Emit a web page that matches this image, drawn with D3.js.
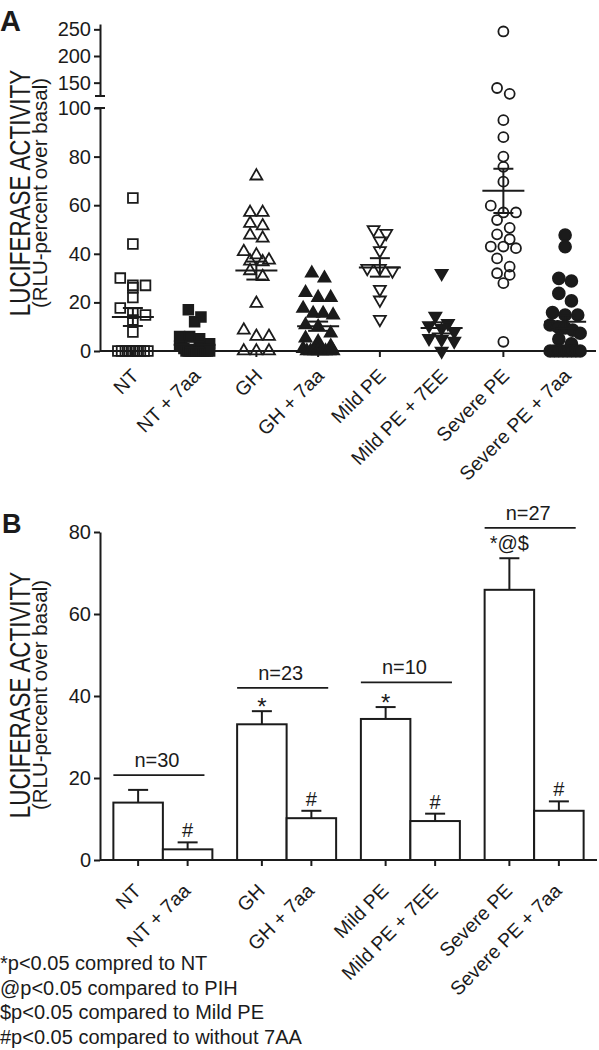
<!DOCTYPE html>
<html>
<head>
<meta charset="utf-8">
<script src="https://cdn.jsdelivr.net/npm/d3@7"></script>
<style>
  body { margin: 0; background: #fff; }
  svg { display: block; }
  text { font-family: "Liberation Sans", Arial, Helvetica, sans-serif; fill: #1b1b1b; }
</style>
</head>
<body>
<svg id="chart" width="599" height="1050"></svg>
<script>
// ---------------- DATA ----------------
const categories = ["NT", "NT + 7aa", "GH", "GH + 7aa", "Mild PE", "Mild PE + 7EE", "Severe PE", "Severe PE + 7aa"];
const groups = ["NT", "GH", "Mild PE", "Severe PE"];

// Panel A: individual values (RLU-percent over basal)
const ntValues       = [63, 44, 30, 27, 26, 27, 22, 17.7, 15.5, 14.8, 12.7, 7.8, 0, 0, 0, 0, 0, 0, 0, 0, 0];
const nt7aaValues    = [17, 14, 12, 6, 6, 5, 3, 2, 2, 1, 0, 0, 0, 0, 0, 0, 0, 0, 0, 0, 0, 0];
const ghValues       = [72, 57, 57, 52.5, 51.5, 47.7, 46.4, 40.9, 39.5, 37.4, 37, 36.7, 33, 30.6, 19.6, 8.6, 6, 6, 0, 0, 0];
const gh7aaValues    = [32, 30, 24, 22, 22, 17.5, 15.5, 15.5, 14.8, 10.7, 10, 7.3, 5.3, 3.8, 2, 1, 0, 0, 0, 0, 0, 0, 0, 0];
const mildValues     = [50, 48.4, 45.3, 41.3, 34, 33, 34, 25.4, 21, 13];
const mild7eeValues  = [32, 14.4, 11.4, 10.5, 9.3, 8, 5.2, 4.8, 4.1, 0];
const severeValues   = [246, 140, 129, 95, 88, 80, 75.8, 69.7, 59.8, 57, 57, 53.9, 50.7, 48, 46, 43, 42.3, 43, 38.1, 34.7, 31.3, 32, 27.9, 3.8];
const severe7aaValues= [47.7, 42.9, 29.9, 28.8, 23.7, 20.6, 15.8, 14.8, 14.8, 10.7, 10, 9.5, 8.6, 7.3, 4.9, 3, 0, 0, 0, 0, 0, 0, 0, 0];
const scatterValues = [ntValues, nt7aaValues, ghValues, gh7aaValues, mildValues, mild7eeValues, severeValues, severe7aaValues];
const semA = [3.7, 1.2, 3.7, 1.9, 3.8, 2.3, 9.1, 2.7];

// Panel B: means and SEM
const means = [14.0, 2.6, 33.1, 10.2, 34.4, 9.5, 65.9, 12.0];
const semB  = [3.1, 1.7, 3.2, 1.8, 2.9, 1.8, 7.7, 2.3];
const sigLabels = ["", "#", "*", "#", "*", "#", "*@$", "#"];
const nLabels = ["n=30", "n=23", "n=10", "n=27"];
const nLineLevels = [20.7, 42.0, 43.3, 81.0];

const yTicksALower = [0, 20, 40, 60, 80, 100];
const yTicksAUpper = [150, 200, 250];
const yTicksB = [0, 20, 40, 60, 80];
const yTitle1 = "LUCIFERASE ACTIVITY";
const yTitle2 = "(RLU-percent over basal)";
const footnotes = ["*p<0.05 compred to NT", "@p<0.05 compared to PIH", "$p<0.05 compared to Mild PE", "#p<0.05 compared to without 7AA"];

// ---------------- DRAW ----------------
const ink = "#1b1b1b";
const svg = d3.select("#chart");

function styleAxis(g, fs) {
  g.selectAll("path, line").attr("stroke", ink).attr("stroke-width", 2);
  g.selectAll("text").attr("font-size", fs).attr("fill", ink)
    .style("font-family", "'Liberation Sans', Arial, sans-serif");
}

function yTitles(cy) {
  svg.append("text").attr("transform", `translate(30,${cy}) rotate(-90) scale(1,1.3)`)
    .attr("text-anchor", "middle").attr("font-size", 22.4).text(yTitle1);
  svg.append("text").attr("transform", `translate(47,${cy}) rotate(-90)`)
    .attr("text-anchor", "middle").attr("font-size", 20.5).text(yTitle2);
}

// ===== Panel A =====
const xA = d3.scaleBand().domain(categories).range([102, 596]);
const yA = d3.scaleLinear().domain([0, 100]).range([351, 108]);
const yAU = d3.scaleLinear().domain([125, 260]).range([96, 24]);
const yAny = v => v > 100 ? yAU(v) : yA(v);
const cxA = c => xA(c) + xA.bandwidth() / 2;

svg.append("text").attr("x", 0).attr("y", 31).attr("font-size", 29).attr("font-weight", "bold").text("A");
yTitles(193);

const axL = svg.append("g").attr("transform", "translate(100,0)")
  .call(d3.axisLeft(yA).tickValues(yTicksALower).tickSize(6).tickPadding(3).tickSizeOuter(0));
styleAxis(axL, 20);
const axU = svg.append("g").attr("transform", "translate(100,0)")
  .call(d3.axisLeft(yAU).tickValues(yTicksAUpper).tickSize(6).tickPadding(3).tickSizeOuter(0));
styleAxis(axU, 20);
// break marks
[yAU.range()[0], yA.range()[1]].forEach(yy => {
  svg.append("line").attr("x1", 95).attr("x2", 105).attr("y1", yy).attr("y2", yy)
    .attr("stroke", ink).attr("stroke-width", 2);
});

// x axis A
svg.append("line").attr("x1", 100).attr("x2", 596).attr("y1", yA(0)).attr("y2", yA(0))
  .attr("stroke", ink).attr("stroke-width", 2);
svg.append("g").selectAll("line").data(categories).join("line")
  .attr("x1", d => cxA(d)).attr("x2", d => cxA(d))
  .attr("y1", yA(0)).attr("y2", yA(0) + 6).attr("stroke", ink).attr("stroke-width", 2);
svg.append("g").selectAll("text").data(categories).join("text")
  .attr("transform", d => `translate(${cxA(d) + 7},${yA(0) + 26}) rotate(-45)`)
  .attr("text-anchor", "end").attr("font-size", 19.5).text(d => d);

// markers
const symbolDefs = [
  { type: d3.symbolSquare, size: 95, filled: false, rot: 0 },
  { type: d3.symbolSquare, size: 95, filled: true, rot: 0 },
  { type: d3.symbolTriangle, size: 62, filled: false, rot: 0 },
  { type: d3.symbolTriangle, size: 62, filled: true, rot: 0 },
  { type: d3.symbolTriangle, size: 62, filled: false, rot: 180 },
  { type: d3.symbolTriangle, size: 62, filled: true, rot: 180 },
  { type: d3.symbolCircle, size: 78, filled: false, rot: 0 },
  { type: d3.symbolCircle, size: 110, filled: true, rot: 0 }
];

function swarm(values, maxSpread, step, tol) {
  const pts = values.map(v => ({ v, y: yAny(v) })).sort((a, b) => a.y - b.y);
  const rows = [];
  pts.forEach(p => {
    const last = rows[rows.length - 1];
    if (last && p.y - last[0].y < tol) last.push(p); else rows.push([p]);
  });
  rows.forEach(r => {
    const n = r.length;
    const s = n > 1 ? Math.min(step, maxSpread / (n - 1)) : 0;
    r.forEach((p, i) => { p.dx = (i - (n - 1) / 2) * s; });
  });
  return pts;
}

categories.forEach((c, i) => {
  const def = symbolDefs[i];
  const pts = swarm(scatterValues[i], 30, 12.6, 9);
  const sym = d3.symbol().type(def.type).size(def.size);
  svg.append("g").selectAll("path").data(pts).join("path")
    .attr("d", sym)
    .attr("transform", p => `translate(${cxA(c) + p.dx},${p.y}) rotate(${def.rot})`)
    .attr("fill", def.filled ? ink : "none")
    .attr("stroke", ink).attr("stroke-width", 1.8);
  // mean & SEM
  const x = cxA(c);
  const g = svg.append("g").attr("stroke", ink).attr("stroke-width", 2);
  g.append("line").attr("x1", x - 21).attr("x2", x + 21).attr("y1", yA(means[i])).attr("y2", yA(means[i]));
  g.append("line").attr("x1", x).attr("x2", x).attr("y1", yA(means[i] - semA[i])).attr("y2", yA(means[i] + semA[i]));
  [means[i] - semA[i], means[i] + semA[i]].forEach(v => {
    g.append("line").attr("x1", x - 10).attr("x2", x + 10).attr("y1", yA(v)).attr("y2", yA(v));
  });
});

// ===== Panel B =====
const yB = d3.scaleLinear().domain([0, 80]).range([860, 532]);
const outer = d3.scaleBand().domain(groups).range([101, 596]).paddingInner(0.2).paddingOuter(0.1);
const inner = d3.scaleBand().domain([0, 1]).range([0, outer.bandwidth()]);
const barX = i => outer(groups[Math.floor(i / 2)]) + inner(i % 2);
const barCx = i => barX(i) + inner.bandwidth() / 2;

svg.append("text").attr("x", 2).attr("y", 533).attr("font-size", 27).attr("font-weight", "bold").text("B");
yTitles(695);

const axB = svg.append("g").attr("transform", "translate(100,0)")
  .call(d3.axisLeft(yB).tickValues(yTicksB).tickSize(6).tickPadding(3).tickSizeOuter(0));
styleAxis(axB, 20);

svg.append("line").attr("x1", 100).attr("x2", 597).attr("y1", yB(0)).attr("y2", yB(0))
  .attr("stroke", ink).attr("stroke-width", 2);

const bars = svg.append("g");
categories.forEach((c, i) => {
  const x = barX(i), cx = barCx(i);
  bars.append("rect").attr("x", x).attr("y", yB(means[i]))
    .attr("width", inner.bandwidth()).attr("height", yB(0) - yB(means[i]))
    .attr("fill", "#fff").attr("stroke", ink).attr("stroke-width", 2);
  const top = means[i] + semB[i];
  bars.append("line").attr("x1", cx).attr("x2", cx).attr("y1", yB(means[i])).attr("y2", yB(top))
    .attr("stroke", ink).attr("stroke-width", 2);
  bars.append("line").attr("x1", cx - 10).attr("x2", cx + 10).attr("y1", yB(top)).attr("y2", yB(top))
    .attr("stroke", ink).attr("stroke-width", 2);
  bars.append("line").attr("x1", cx).attr("x2", cx).attr("y1", yB(0)).attr("y2", yB(0) + 6)
    .attr("stroke", ink).attr("stroke-width", 2);
  if (sigLabels[i]) {
    const lone = sigLabels[i] === "*";
    bars.append("text").attr("x", cx).attr("y", yB(top) + (lone ? 4 : (sigLabels[i].length > 1 ? -8 : -5)))
      .attr("text-anchor", "middle").attr("font-size", lone ? 24 : 20).text(sigLabels[i]);
  }
  bars.append("text")
    .attr("transform", `translate(${cx + 4},${yB(0) + 32}) rotate(-45)`)
    .attr("text-anchor", "end").attr("font-size", 19.5).text(c);
});

groups.forEach((g, j) => {
  const x0 = outer(g), w = outer.bandwidth();
  const yy = yB(nLineLevels[j]);
  svg.append("line").attr("x1", x0).attr("x2", x0 + w * 0.92).attr("y1", yy).attr("y2", yy)
    .attr("stroke", ink).attr("stroke-width", 1.8);
  svg.append("text").attr("x", x0 + w * 0.44).attr("y", yy - 8)
    .attr("text-anchor", "middle").attr("font-size", 20).text(nLabels[j]);
});

// footnotes
svg.append("g").selectAll("text").data(footnotes).join("text")
  .attr("x", 0).attr("y", (d, i) => 970 + i * 24.5)
  .attr("font-size", 20).text(d => d);
</script>
</body>
</html>
